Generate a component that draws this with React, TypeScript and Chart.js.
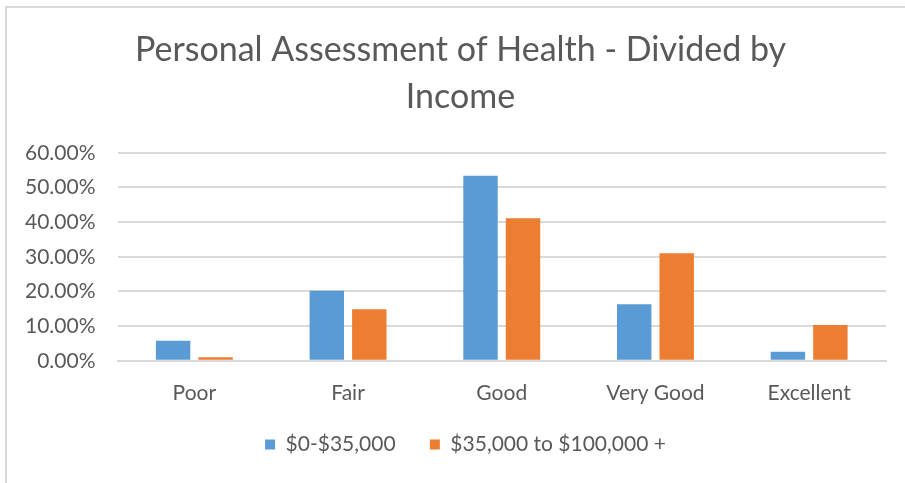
import React, { useEffect, useRef } from "react";
import { Chart, registerables } from "chart.js";

Chart.register(...registerables);

const categories = ["Poor", "Fair", "Good", "Very Good", "Excellent"];
const lowIncome = [5.8, 20.2, 53.4, 16.3, 2.6];
const highIncome = [1.0, 14.9, 41.1, 31.0, 10.3];
const seriesNames = ["$0-$35,000", "$35,000 to $100,000 +"];
const titleLines = ["Personal Assessment of Health - Divided by", "Income"];

const FONT = "Lato, 'Open Sans', sans-serif";
const TEXT = "#595959";

const shiftPlugin = {
  id: "shiftBlocks",
  afterLayout(chart: any) {
    const t = chart.titleBlock;
    if (t) t.right += 32;
    const l = chart.legend;
    if (l) l.left += 42;
  },
};

export default function App() {
  const ref = useRef<HTMLCanvasElement | null>(null);

  useEffect(() => {
    if (!ref.current) return;
    const chart = new Chart(ref.current, {
      type: "bar",
      data: {
        labels: categories,
        datasets: [
          {
            label: seriesNames[0],
            data: lowIncome,
            backgroundColor: "#5B9BD5",
            categoryPercentage: 0.553,
            barPercentage: 0.81,
          },
          {
            label: seriesNames[1],
            data: highIncome,
            backgroundColor: "#ED7D31",
            categoryPercentage: 0.553,
            barPercentage: 0.81,
          },
        ],
      },
      plugins: [shiftPlugin],
      options: {
        animation: false,
        responsive: false,
        maintainAspectRatio: false,
        layout: { padding: { left: 3, right: 19, top: 0, bottom: 18 } },
        plugins: {
          tooltip: { enabled: false },
          title: {
            display: true,
            text: titleLines,
            color: TEXT,
            font: { family: FONT, size: 34, weight: "normal", lineHeight: 1.38 },
            padding: { top: 27, bottom: 32 },
          },
          legend: {
            display: true,
            position: "bottom",
            labels: {
              color: TEXT,
              font: { family: FONT, size: 21 },
              boxWidth: 10,
              boxHeight: 10,
              usePointStyle: true,
              pointStyle: "rect",
              padding: 8,
              generateLabels: (c: any) => {
                const items = Chart.defaults.plugins.legend.labels.generateLabels(c);
                return items.map((it: any, i: number) =>
                  i < items.length - 1 ? { ...it, text: it.text + "\u2002\u2002\u2009\u2009" } : it
                );
              },
            },
          },
        },
        scales: {
          x: {
            grid: { display: false, drawTicks: false },
            border: { display: true, color: "#d9d9d9", width: 2 },
            ticks: {
              color: TEXT,
              font: { family: FONT, size: 21 },
              padding: 20,
            },
          },
          y: {
            min: 0,
            max: 60,
            grid: { color: "#d9d9d9", lineWidth: 2, drawTicks: false },
            border: { display: false },
            ticks: {
              stepSize: 10,
              color: TEXT,
              font: { family: FONT, size: 21 },
              padding: 22,
              callback: (v: any) => Number(v).toFixed(2) + "%",
            },
          },
        },
      },
    });
    return () => chart.destroy();
  }, []);

  return (
    <div style={{ position: "fixed", left: 0, top: 0, width: 905, height: 483, background: "#fff" }}>
      <div
        style={{
          position: "absolute",
          left: 5,
          top: 6,
          width: 900,
          height: 477,
          borderTop: "2px solid #d9d9d9",
          borderLeft: "2px solid #d9d9d9",
          boxSizing: "border-box",
        }}
      />
      <canvas ref={ref} width={905} height={483} style={{ position: "absolute", left: 0, top: 0 }} />
    </div>
  );
}
